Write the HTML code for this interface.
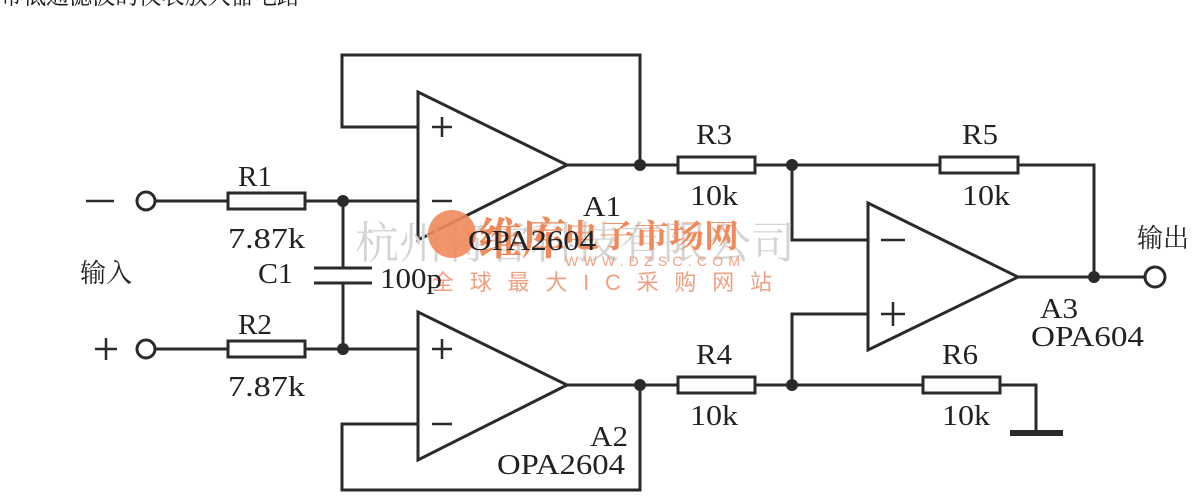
<!DOCTYPE html>
<html><head><meta charset="utf-8"><style>
body{margin:0;background:#fff;width:1200px;height:498px;overflow:hidden}
svg{display:block}
text{font-family:"Liberation Serif","Noto Serif CJK SC",serif;fill:#222}
</style></head><body>
<svg width="1200" height="498" viewBox="0 0 1200 498">
<text x="0" y="4" font-size="26" textLength="300" lengthAdjust="spacingAndGlyphs">带低通滤波的仪表放大器电路</text>
<g stroke="#2a2a2a" stroke-width="3" fill="none" stroke-linejoin="miter">
<polygon points="418,92 418,240 567,165"/>
<polyline points="418,127 342,127 342,55 640,55 640,165"/>
<line x1="567" y1="165" x2="678" y2="165"/>
<circle cx="146" cy="201" r="9" fill="#fff"/>
<line x1="155" y1="201" x2="228" y2="201"/>
<rect x="228" y="193" width="77" height="16"/>
<line x1="305" y1="201" x2="418" y2="201"/>
<line x1="343" y1="201" x2="343" y2="268"/>
<line x1="314" y1="268" x2="372" y2="268"/>
<line x1="314" y1="283" x2="372" y2="283"/>
<line x1="343" y1="283" x2="343" y2="349"/>
<circle cx="146" cy="349" r="9" fill="#fff"/>
<line x1="155" y1="349" x2="228" y2="349"/>
<rect x="228" y="341" width="77" height="16"/>
<line x1="305" y1="349" x2="418" y2="349"/>
<polygon points="418,312 418,460 567,385"/>
<polyline points="418,424 342,424 342,490 640,490 640,385"/>
<line x1="567" y1="385" x2="678" y2="385"/>
<rect x="678" y="157" width="77" height="16"/>
<line x1="755" y1="165" x2="940" y2="165"/>
<rect x="940" y="157" width="78" height="16"/>
<polyline points="1018,165 1094,165 1094,277"/>
<polyline points="792,165 792,240 868,240"/>
<polygon points="868,203 868,350 1018,277"/>
<line x1="1018" y1="277" x2="1145" y2="277"/>
<circle cx="1155" cy="277" r="10" fill="#fff"/>
<rect x="678" y="377" width="77" height="16"/>
<line x1="755" y1="385" x2="923" y2="385"/>
<polyline points="868,314 792,314 792,385"/>
<rect x="923" y="377" width="77" height="16"/>
<polyline points="1000,385 1036,385 1036,433"/>
</g>
<line x1="1010" y1="433" x2="1063" y2="433" stroke="#2a2a2a" stroke-width="6"/>
<g fill="#2a2a2a">
<circle cx="640" cy="165" r="6"/><circle cx="343" cy="201" r="6"/><circle cx="343" cy="349" r="6"/>
<circle cx="640" cy="385" r="6"/><circle cx="792" cy="165" r="6"/><circle cx="792" cy="385" r="6"/>
<circle cx="1094" cy="277" r="6"/>
</g>
<g stroke="#2a2a2a" stroke-width="2.5">
<line x1="432" y1="127" x2="452" y2="127"/><line x1="442" y1="117" x2="442" y2="137"/>
<line x1="432" y1="201" x2="452" y2="201"/>
<line x1="432" y1="349" x2="452" y2="349"/><line x1="442" y1="339" x2="442" y2="359"/>
<line x1="432" y1="424" x2="452" y2="424"/>
<line x1="881" y1="240" x2="905" y2="240"/>
<line x1="881" y1="314" x2="905" y2="314"/><line x1="893" y1="302" x2="893" y2="326"/>
<line x1="86" y1="201" x2="114" y2="201"/>
<line x1="95" y1="349" x2="117" y2="349"/><line x1="106" y1="338" x2="106" y2="360"/>
</g>
<text x="355" y="258" font-size="44" style="fill:#d4d4d4">杭州将睿科技有限公司</text>
<circle cx="452" cy="234" r="24" fill="#f08a5a" opacity="0.9"/>
<text x="478" y="254" font-size="44" font-weight="bold" style="fill:#f08a5a">维库</text>
<text x="564" y="247" font-size="32" font-weight="bold" style="fill:#f08a5a" textLength="175" lengthAdjust="spacingAndGlyphs">电子市场网</text>
<text x="565" y="266" font-size="14" style="fill:#f0a080;font-family:'Liberation Sans',sans-serif" textLength="175">WWW.DZSC.COM</text>
<text x="432" y="290" font-size="22" style="fill:#f0a080;font-family:'Liberation Sans','Noto Sans CJK SC',sans-serif" textLength="340">全球最大IC采购网站</text>
<g font-size="29" lengthAdjust="spacingAndGlyphs">
<text x="238" y="186" textLength="34" lengthAdjust="spacingAndGlyphs">R1</text><text x="228" y="248" textLength="77" lengthAdjust="spacingAndGlyphs">7.87k</text>
<text x="238" y="334" textLength="34" lengthAdjust="spacingAndGlyphs">R2</text><text x="228" y="396" textLength="77" lengthAdjust="spacingAndGlyphs">7.87k</text>
<text x="258" y="283" textLength="35" lengthAdjust="spacingAndGlyphs">C1</text><text x="380" y="288" textLength="62" lengthAdjust="spacingAndGlyphs">100p</text>
<text x="583" y="216" textLength="38" lengthAdjust="spacingAndGlyphs">A1</text><text x="468" y="250" textLength="128" lengthAdjust="spacingAndGlyphs">OPA2604</text>
<text x="590" y="446" textLength="38" lengthAdjust="spacingAndGlyphs">A2</text><text x="497" y="474" textLength="128" lengthAdjust="spacingAndGlyphs">OPA2604</text>
<text x="1040" y="318" textLength="38" lengthAdjust="spacingAndGlyphs">A3</text><text x="1031" y="346" textLength="113" lengthAdjust="spacingAndGlyphs">OPA604</text>
<text x="696" y="144" textLength="36" lengthAdjust="spacingAndGlyphs">R3</text><text x="690" y="205" textLength="48" lengthAdjust="spacingAndGlyphs">10k</text>
<text x="962" y="144" textLength="36" lengthAdjust="spacingAndGlyphs">R5</text><text x="962" y="205" textLength="48" lengthAdjust="spacingAndGlyphs">10k</text>
<text x="696" y="364" textLength="36" lengthAdjust="spacingAndGlyphs">R4</text><text x="690" y="425" textLength="48" lengthAdjust="spacingAndGlyphs">10k</text>
<text x="942" y="364" textLength="36" lengthAdjust="spacingAndGlyphs">R6</text><text x="942" y="425" textLength="48" lengthAdjust="spacingAndGlyphs">10k</text>
</g>
<text x="80" y="282" font-size="26">输入</text>
<text x="1137" y="247" font-size="26">输出</text>
</svg>
</body></html>
